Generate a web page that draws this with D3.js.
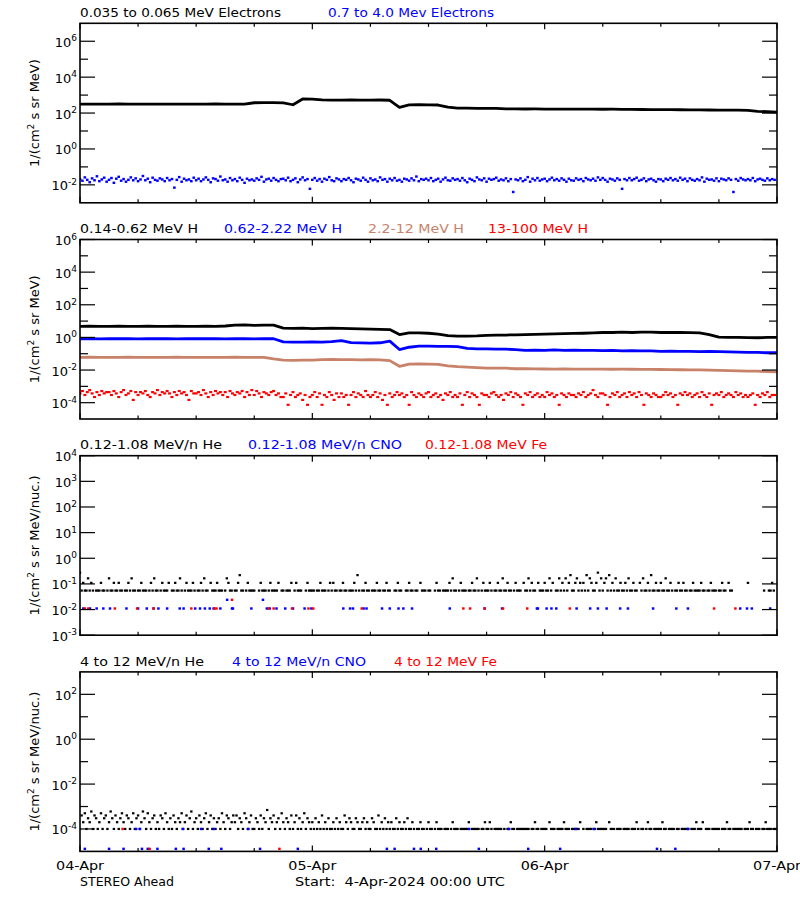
<!DOCTYPE html>
<html><head><meta charset="utf-8">
<script src="https://cdn.jsdelivr.net/npm/d3@7"></script>
<style>
body{margin:0;background:#fff;}
text{font-family:"DejaVu Sans",sans-serif;}
</style></head><body>
<svg id="chart" width="800" height="900"></svg>
<script>
// ---------- time axis ----------
const START = Date.UTC(2024,3,4,0,0);
const END   = Date.UTC(2024,3,7,0,0);
const dayLabels = ["04-Apr","05-Apr","06-Apr","07-Apr"];
const footLeft = "STEREO Ahead";
const footRight = "Start:  4-Apr-2024 00:00 UTC";

// ---------- panel 1: electrons ----------
// 0.035-0.065 MeV electrons, hourly values
const eLow = [316,318,314,316,320,315,316,313,318,316,315,317,314,316,319,315,316,318,
  375,380,378,372, 290, 610,600, 540,530,525,535,520,528,532,515, 210, 285,290,288,280, 212,
  190,186,184,182,180, 172,170,168,169,166,167,165,166,164,165,163,164,162,161,
  158,156,155,154,153,152,151, 148,146,145,144,142, 125,118,112];
// 0.7-4.0 MeV electrons, 15-min values in units of 1e-3
const eHigh = [
21,17,26,19,14,23,18,30,16,20,25,15, 19,24,13,22,28,17,21,15,19,26,18,23,
16,20,31,18,22,14,25,19,17,23,20,16, 24,18,21,7,19,27,15,22,18,20,16,25,
18,22,16,20,26,19,14,23,21,17,29,18, 20,15,24,18,21,16,25,19,13,22,18,20,
17,23,19,28,15,20,22,17,24,19,16,21, 22,18,25,16,19,23,14,20,26,18,21,6,
19,24,17,21,15,22,19,27,18,16,23,20, 16,21,19,24,18,14,22,20,17,25,19,15,
23,18,20,16,26,19,21,15,22,18,24,17, 19,15,22,20,17,23,18,29,16,21,19,22,
18,24,16,19,22,15,20,25,18,17,23,19, 21,17,24,18,14,22,19,16,26,20,18,23,
15,22,19,21,25,17,20,18,23,16,21,4, 20,18,23,16,19,27,15,22,18,24,17,20,
22,16,20,25,18,21,17,23,19,15,22,18, 17,23,19,21,16,24,20,18,22,17,26,19,
24,19,15,22,20,17,23,19,6,21,18,24, 18,21,25,17,19,23,16,20,22,18,15,21,
20,16,22,19,24,18,21,17,25,19,22,16, 23,19,17,21,18,26,15,22,19,20,17,23,
16,22,20,18,23,19,4,21,17,24,20,18, 21,18,24,16,20,22,19,17,23,18,21,19];

// ---------- panel 2: protons (hourly) ----------
const hLow = [4.8,4.9,4.7,4.8,4.9,4.8,4.7,4.9,4.8,4.8,4.9,4.7,4.8,4.9,4.8,5.0,
  5.6,5.8,5.5,5.7,5.6, 3.7,3.6,3.7,3.5,3.6,3.7,3.6,3.5, 3.3,3.2,3.1, 3.0, 1.5, 1.9,1.9,1.8, 1.6,
  1.3,1.2,1.2,1.25, 1.35,1.4,1.4,1.45,1.5,1.55, 1.6,1.65,1.7,1.75,1.8,1.9,
  2.0,2.0,2.1,2.0,2.1,2.1,2.0,2.0,2.0,1.95,1.9, 1.5, 1.05,1.0,1.0,0.98,0.95,1.0,1.0];
const hMid = [0.83,0.84,0.82,0.83,0.85,0.83,0.82,0.84,0.83,0.83,0.82,0.84,0.83,0.85,0.83,0.82,0.84,0.83,0.82,0.84,0.83,
  0.53,0.52,0.51,0.53,0.52,0.55, 0.63, 0.48,0.46,0.45,0.47, 0.59, 0.18, 0.25,
  0.29,0.29,0.28,0.28,0.27, 0.21,0.2,0.2,0.19,0.19,0.18,
  0.16,0.165,0.16,0.17,0.16,0.165,0.16,0.16,0.155,0.16,0.15,0.155,0.15,0.15,
  0.14,0.145,0.14,0.14,0.135,0.14,0.135, 0.13,0.125,0.12,0.12,0.115,0.115];
const hHigh = [0.060,0.061,0.060,0.059,0.060,0.061,0.060,0.060,0.059,0.060,0.061,0.060,0.060,0.059,0.060,0.060,0.061,0.060,0.059,0.060,
  0.048,0.040, 0.039,0.040,0.041,0.044,0.045,0.044,0.043,0.042,0.043,0.042, 0.038, 0.017,
  0.023,0.024,0.023,0.022, 0.018,0.016,0.015, 0.014,0.013,0.013,0.013,0.012,0.012,
  0.0118,0.0116,0.0115,0.0117,0.0115,0.0114,0.0115,0.0113,0.0112,0.0113,0.0112,0.011,0.011,0.0108,
  0.0106,0.0104,0.0103,0.0101,0.0098,0.0095, 0.0092,0.009,0.0087,0.0085,0.0080,0.0077];
// 13-100 MeV H, 15-min counts, one count = 7.4e-5
const hTopUnit = 7.4e-5;
const hTop = [
5,7,4,6,8,5,3,6,4,7,5,6, 6,4,7,5,3,6,8,4,5,7,2,6, 4,6,5,7,4,3,6,5,8,4,6,5,
7,5,3,6,4,7,5,6,4,2,7,5, 5,6,4,8,5,3,6,4,7,5,6,4, 6,3,7,5,4,6,5,7,3,6,4,8,
4,7,5,3,6,5,4,6,7,4,5,3, 3,5,1,4,6,3,4,5,2,4,1,3, 4,6,3,5,1,4,3,6,4,2,5,3,
5,3,4,1,4,6,3,5,4,3,7,4, 3,4,6,3,5,2,4,1,5,3,4,6, 4,5,3,4,1,6,4,3,5,4,3,5,
6,3,4,5,3,4,2,5,4,6,3,4, 3,5,1,4,6,3,5,4,3,1,5,4, 4,3,5,6,4,3,4,2,5,4,6,3,
5,4,3,1,5,4,6,3,4,5,3,4, 3,6,4,5,3,4,1,5,4,3,5,4, 4,3,5,4,6,3,4,5,8,4,3,5,
5,4,1,3,5,4,6,3,4,5,3,6, 4,5,3,6,4,1,5,4,3,5,4,3, 3,4,6,4,5,3,4,1,5,4,6,4,
5,3,4,5,3,6,4,3,5,1,4,5, 4,6,3,4,5,4,3,6,4,5,3,4, 3,4,5,1,4,3,5,4,6,3,4,4];

// ---------- panel 3: 0.12-1.08 MeV/n heavy ions ----------
// He, 10-min counts, one count = 0.055
const heLowUnit = 0.055;
const heLow = [
5,1,2,1,1,3,1,2,1,0,1,1, 1,2,1,1,0,1,3,1,1,2,1,1, 2,1,1,0,1,1,2,1,3,1,1,0,
1,1,2,1,1,1,0,1,2,1,3,1, 1,0,1,2,1,1,1,2,0,1,1,2, 1,1,3,1,0,1,2,1,1,1,2,1,
0,1,1,2,1,3,1,1,0,2,1,1, 1,2,1,1,1,0,1,3,2,1,1,0, 1,1,2,4,1,1,0,1,2,1,1,1,
1,0,0,1,2,1,1,1,0,1,2,1, 1,1,1,2,0,1,1,0,1,1,1,2, 0,1,2,1,1,1,0,0,1,2,1,1,
1,1,0,1,1,2,1,1,1,0,1,2, 1,2,1,1,0,1,1,2,1,1,0,1, 1,1,2,1,4,1,0,1,1,2,1,1,
0,1,1,1,2,1,1,0,1,1,2,1, 1,0,0,1,1,2,1,1,0,0,1,1, 2,1,1,0,1,1,0,2,1,1,1,0,
1,1,0,0,1,2,1,1,0,1,1,1, 1,2,1,3,1,1,0,1,2,1,1,1, 0,1,1,2,1,1,3,1,0,1,2,1,
1,1,2,1,0,1,1,2,1,1,3,1, 1,2,1,1,0,1,2,1,1,1,0,2, 1,1,3,1,2,1,1,0,2,1,1,1,
2,1,1,3,1,2,0,1,1,3,1,2, 1,3,1,2,4,1,1,2,3,1,2,1, 2,1,4,1,3,2,1,1,2,5,1,3,
1,2,3,1,4,1,2,1,3,1,1,2, 1,1,2,1,3,1,1,2,1,1,0,2, 1,3,1,1,2,1,4,1,1,2,1,1,
2,1,1,3,1,1,2,1,0,1,1,2, 1,1,2,1,1,0,1,1,2,1,1,1, 1,2,1,1,0,1,1,2,1,1,1,0,
1,1,2,1,1,0,2,1,1,0,0,0, 0,0,0,0,0,0,2,0,0,0,0,0, 0,0,0,0,1,0,0,1,1,2,1,0];
// CNO and Fe event times (hours after start)
const cnoLowHours = [0.34,1.03,1.72,2.41,3.1,4.8,6.0,6.9,7.6,8.1,9.0,10.3,10.7,11.9,12.4,12.9,13.4,13.8,14.5,
  15.7,15.8,17.7,19.3,19.6,20.3,21.2,22.0,23.2,23.9,27.2,27.9,28.2,29.3,29.6,31.2,32.0,32.9,33.4,34.3,
  38.2,41.8,43.6,47.2,47.3,48.2,48.7,49.2,51.3,52.7,53.5,54.4,55.8,56.6,59.2,61.6,62.8,68.2,68.9,69.4,71.3];
const cnoLowLevel = 0.011;
const cnoLowHoursUpper = [15.2,18.9];
const cnoLowLevelUpper = 0.024;
const feLowHours = [0.5,0.86,3.6,5.9,7.6,11.5,13.9,14.1,19.5,20.0,21.9,23.6,24.1,29.1,39.6,40.3,41.8,43.7,46.2,50.6,65.5,67.7];
const feLowLevel = 0.011;
const feLowHoursUpper = [15.7];
const feLowLevelUpper = 0.024;

// ---------- panel 4: 4-12 MeV/n heavy ions ----------
const heHighUnit = 1e-4;
const heHigh = [
1,4,2,5,1,3,2,6,1,4,3,1, 2,5,1,3,4,1,2,6,3,1,4,2, 1,3,5,2,1,4,3,1,2,5,1,3,
4,1,2,6,3,1,5,2,1,3,4,1, 2,1,4,3,1,5,2,1,3,1,4,2, 1,3,2,5,1,2,4,1,3,6,1,2,
3,1,4,2,1,3,5,1,2,4,1,3, 1,2,3,1,5,2,1,4,3,1,2,4, 2,4,1,3,2,1,5,3,1,2,4,1,
1,3,2,1,4,1,3,2,7,1,3,2, 4,1,2,3,1,5,2,1,3,2,1,4, 1,2,4,1,3,1,2,5,1,3,2,1,
2,1,3,1,2,1,4,1,2,1,3,1, 1,2,1,3,1,2,1,1,4,2,1,3, 2,1,1,3,2,1,1,2,3,1,2,1,
1,3,2,1,1,4,1,2,1,3,1,2, 1,2,1,1,3,1,2,1,1,2,1,3, 1,1,2,1,0,1,1,2,1,1,0,1,
2,1,1,0,1,2,1,1,1,0,1,1, 1,0,1,2,1,1,1,0,1,1,1,1, 1,2,0,1,1,1,1,1,0,1,1,2,
1,1,2,1,0,1,1,1,1,1,0,1, 0,1,1,2,1,1,0,1,1,1,1,1, 1,1,1,0,1,1,2,1,1,0,1,1,
1,1,0,2,1,1,1,0,1,1,1,1, 2,1,1,1,0,1,1,1,1,1,2,0, 1,0,1,1,1,1,0,1,2,1,1,1,
1,1,1,0,2,1,1,1,0,1,1,1, 0,1,1,1,1,0,1,1,1,2,1,0, 1,1,0,1,2,1,1,0,1,1,1,1,
1,2,1,1,0,1,1,1,1,0,1,1, 0,1,1,1,1,1,0,1,1,1,2,1, 1,1,2,0,1,1,1,0,1,1,1,1,
1,0,1,1,1,2,1,1,0,1,1,1, 1,1,1,0,1,1,1,2,1,1,0,1, 1,1,0,1,1,2,1,1,1,0,1,1];
const cnoHighHours = [0.5,3.0,4.5,6.4,7.0,8.0,9.9,10.7,13.3,14.6,18.6,22.5,31.7,32.5,34.5,35.2,36.8,41.2,46.3,49.6,59.6,61.5];
const cnoHighLevel = 1.3e-5;
const cnoHighHoursUpper = [5.8,6.2,10.6,12.5,13.8,17.4,40.2,44.3,51.2,53.1,62.8];
const cnoHighLevelUpper = 1e-4;
const feHighHours = [7.2,20.6];
const feHighLevel = 1.3e-5;
const feHighHoursUpper = [4.4];
const feHighLevelUpper = 1e-4;

// ---------- build ----------
const BLACK="#000000", BLUE="#0000ff", RED="#ff0000", BROWN="#c8826a";
const step = (arr, minutes, unit=1) => arr.map((v,i)=>({t:new Date(START+i*minutes*60000), v:v*unit})).filter(d=>d.v>0);
const events = (hours, level) => hours.map(h=>({t:new Date(START+h*3600000), v:level}));

const panels = [
  {domain:[1e-3,1e7], all:false, ytitle:["1/(cm","2"," s sr MeV)"],
   titles:[["0.035 to 0.065 MeV Electrons",BLACK,80,201],["0.7 to 4.0 Mev Electrons",BLUE,328,166]],
   series:[{type:"line",data:step(eLow,60),color:BLACK,w:2.8},
           {type:"pts",data:step(eHigh,15,1e-3),color:BLUE,w:2.6,h:2.4}]},
  {domain:[1e-5,1e6], all:false, ytitle:["1/(cm","2"," s sr MeV)"],
   titles:[["0.14-0.62 MeV H",BLACK,80,118],["0.62-2.22 MeV H",BLUE,224,118],["2.2-12 MeV H",BROWN,368,96],["13-100 MeV H",RED,488,100]],
   series:[{type:"pts",data:step(hTop,15,hTopUnit),color:RED,w:3,h:2.2},
           {type:"line",data:step(hHigh,60),color:BROWN,w:2.8},
           {type:"line",data:step(hMid,60),color:BLUE,w:2.8},
           {type:"line",data:step(hLow,60),color:BLACK,w:2.8}]},
  {domain:[1e-3,1e4], all:true, ytitle:["1/(cm","2"," s sr MeV/nuc.)"],
   titles:[["0.12-1.08 MeV/n He",BLACK,80,142],["0.12-1.08 MeV/n CNO",BLUE,248,154],["0.12-1.08 MeV Fe",RED,425,122]],
   series:[{type:"pts",data:step(heLow,10,heLowUnit),color:BLACK,w:2.4,h:2.2},
           {type:"pts",data:events(cnoLowHours,cnoLowLevel).concat(events(cnoLowHoursUpper,cnoLowLevelUpper)),color:BLUE,w:2.5,h:2.4},
           {type:"pts",data:events(feLowHours,feLowLevel).concat(events(feLowHoursUpper,feLowLevelUpper)),color:RED,w:2.5,h:2.4}]},
  {domain:[1e-5,1e3], all:false, ytitle:["1/(cm","2"," s sr MeV/nuc.)"],
   titles:[["4 to 12 MeV/n He",BLACK,80,124],["4 to 12 MeV/n CNO",BLUE,232,134],["4 to 12 MeV Fe",RED,394,103]],
   series:[{type:"pts",data:step(heHigh,10,heHighUnit),color:BLACK,w:2.4,h:2.2},
           {type:"pts",data:events(cnoHighHours,cnoHighLevel).concat(events(cnoHighHoursUpper,cnoHighLevelUpper)),color:BLUE,w:2.5,h:2.4},
           {type:"pts",data:events(feHighHours,feHighLevel).concat(events(feHighHoursUpper,feHighLevelUpper)),color:RED,w:2.5,h:2.4}]}
];

const svg = d3.select("#chart");
svg.append("rect").attr("width",800).attr("height",900).attr("fill","#fff");
const X0=80, X1=777, PH=179.5, TOP0=23.3, PSTEP=216.2;
const x = d3.scaleUtc().domain([new Date(START),new Date(END)]).range([X0,X1]);
const sixHours = d3.utcHour.every(6).range(new Date(START), new Date(END+1));
const days = d3.utcDay.range(new Date(START), new Date(END+1));

panels.forEach((p,pi)=>{
  const top = TOP0 + pi*PSTEP, bot = top + PH;
  const y = d3.scaleLog().domain(p.domain).range([bot,top]);
  const g = svg.append("g");
  const clip = "clip"+pi;
  svg.append("clipPath").attr("id",clip).append("rect").attr("x",X0).attr("y",top).attr("width",X1-X0).attr("height",PH);
  const dg = g.append("g").attr("clip-path",`url(#${clip})`);
  p.series.forEach(s=>{
    if (s.type==="line") {
      dg.append("path").datum(s.data).attr("fill","none").attr("stroke",s.color).attr("stroke-width",s.w)
        .attr("stroke-linejoin","round")
        .attr("d", d3.line().x(d=>x(d.t)).y(d=>y(d.v)));
    } else {
      dg.selectAll(null).data(s.data).enter().append("rect")
        .attr("x",d=>x(d.t)-s.w/2).attr("y",d=>y(d.v)-s.h/2)
        .attr("width",s.w).attr("height",s.h).attr("fill",s.color);
    }
  });
  // frame
  g.append("rect").attr("x",X0).attr("y",top).attr("width",X1-X0).attr("height",PH)
    .attr("fill","none").attr("stroke","#000").attr("stroke-width",1.6);
  // x ticks (top and bottom)
  sixHours.forEach(t=>{
    const isDay = t.getUTCHours()===0;
    const len = isDay?6:3.5, xx = x(t);
    g.append("line").attr("x1",xx).attr("x2",xx).attr("y1",bot).attr("y2",bot-len).attr("stroke","#000").attr("stroke-width",1.2);
    g.append("line").attr("x1",xx).attr("x2",xx).attr("y1",top).attr("y2",top+len).attr("stroke","#000").attr("stroke-width",1.2);
  });
  // y ticks
  const lo = Math.round(Math.log10(p.domain[0])), hi = Math.round(Math.log10(p.domain[1]));
  for (let e=lo; e<=hi; e++) {
    const major = p.all || e%2===0;
    if (!major && (e===lo || e===hi)) continue;
    const len = major?15:8, yy = y(Math.pow(10,e));
    g.append("line").attr("x1",X0).attr("x2",X0+len).attr("y1",yy).attr("y2",yy).attr("stroke","#000").attr("stroke-width",1.2);
    g.append("line").attr("x1",X1).attr("x2",X1-len).attr("y1",yy).attr("y2",yy).attr("stroke","#000").attr("stroke-width",1.2);
    if (major) {
      const t = g.append("text").attr("x",77).attr("y",yy+5.5).attr("text-anchor","end").attr("font-size",13);
      t.append("tspan").text("10");
      t.append("tspan").attr("dy",-5.5).attr("font-size",9).text(e<0?"-"+(-e):String(e));
    }
  }
  // y title
  const yt = g.append("text").attr("transform",`translate(39,${(top+bot)/2}) rotate(-90)`)
    .attr("text-anchor","middle").attr("font-size",13);
  yt.append("tspan").text(p.ytitle[0]);
  yt.append("tspan").attr("dy",-5).attr("font-size",9).text(p.ytitle[1]);
  yt.append("tspan").attr("dy",5).text(p.ytitle[2]);
  // titles
  p.titles.forEach(([txt,col,tx,tw])=>{
    g.append("text").attr("x",tx).attr("y",top-6.3).attr("fill",col).attr("font-size",12.5)
      .attr("textLength",tw).attr("lengthAdjust","spacingAndGlyphs").style("white-space","pre").text(txt);
  });
  if (pi===panels.length-1) {
    days.forEach((d,i)=>{
      g.append("text").attr("x",x(d)).attr("y",bot+19).attr("text-anchor","middle").attr("font-size",13)
        .attr("textLength",48).attr("lengthAdjust","spacingAndGlyphs").text(dayLabels[i]);
    });
    g.append("text").attr("x",80).attr("y",bot+34.5).attr("font-size",12.5)
      .attr("textLength",94).attr("lengthAdjust","spacingAndGlyphs").text(footLeft);
    g.append("text").attr("x",295).attr("y",bot+34.5).attr("font-size",12.5).style("white-space","pre")
      .attr("textLength",210).attr("lengthAdjust","spacingAndGlyphs").text(footRight);
  }
});
</script>
</body></html>
